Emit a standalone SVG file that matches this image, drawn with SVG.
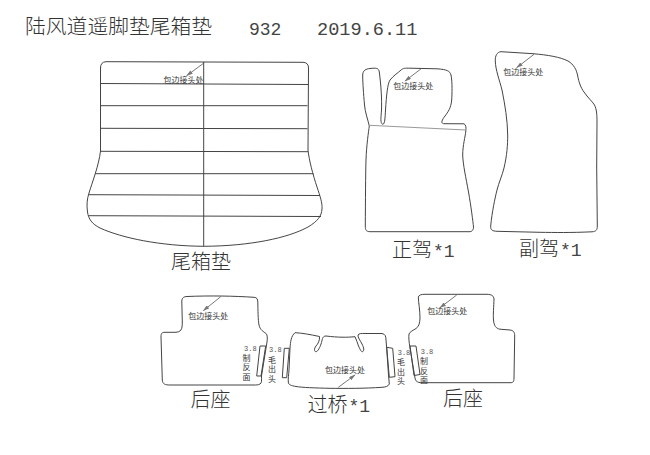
<svg xmlns="http://www.w3.org/2000/svg" width="650" height="455" viewBox="0 0 650 455">
<style>
text{font-family:"Noto Sans CJK SC","Liberation Sans",sans-serif;fill:#333}
.o{fill:none;stroke:#444;stroke-width:1}
.t{font-size:20px;font-weight:300}
.m{font-family:"Liberation Mono","Noto Sans CJK SC",monospace;fill:#444}
.s{font-size:8px;fill:#333}
.n{font-family:"Liberation Mono",monospace;font-size:7px;fill:#555}
.a{stroke:#555;stroke-width:.8;fill:none;marker-end:url(#h)}
</style>
<defs>
<marker id="h" viewBox="0 0 10 6" refX="9" refY="3" markerWidth="7" markerHeight="4" markerUnits="userSpaceOnUse" orient="auto"><path d="M0 0L10 3L0 6z" fill="#777"/></marker>
</defs>
<rect width="650" height="455" fill="#fff"/>
<g id="title">
<text x="25" y="34" font-size="20.8" font-weight="300">陆风道遥脚垫尾箱垫</text>
<text class="m" x="249" y="34.500" font-size="18">932</text>
<text class="m" x="317" y="34.500" font-size="18.600">2019.6.11</text>
</g>
<g id="trunk-mat">
<path class="o" d="M100.500 68Q100.500 62 106 61.700L303 62.300Q308.500 62.500 308.500 68L308 150C309 160 313 175 317 187C320 196 322.500 203 322 209C321.500 216 318 221 308 227C288 238 250 246 204 246.300C160 246 122 238 100 228C92 224 88.500 219 87.500 212C86.500 205 87 199 89 193C92 183 99 165 100.500 151Z"/>
<path class="o" d="M203.700 62V246M100.500 83.500L308.300 84.500M101 105.700L307.500 105.700M101 128.300L307.500 128.700M100.500 151.300L308 151.700M95 173.700L313.500 173.700M89 194.700L320 195.500M88.500 215.700L321 216.500"/>
<text class="s" x="163.500" y="82.500">包边接头处</text>
</g>
<g id="driver-mat">
<path class="o" d="M362.700 76C362.500 70 366 69 370 68.500C376 67.800 378.800 68 379.300 72C381 85 382 100 381.500 110C381 118 380 123 382.700 124.300C385 124 385 118 385.500 110C386.500 95 387.500 84 390 80C394 75 398 73 401 70C403 68.300 405 68 410 68.200L437 68.800C447 69.500 450 71 451 75C452.500 82 452 95 451.700 100C451 108 448 112 445 116C442 120 440.500 123 443.500 123.700L464 123.800C466 125 466.200 127 465.800 131C465.300 137 462.700 145 462.700 155C463 165 466 178 468.500 192C471 206 473 222 473.500 227C473.500 231 471 232 468 231.700L370 231.700C366 231.500 365.300 230 365.300 226C365.500 200 365.500 175 366 160C366.500 145 368.500 132 369.300 126C368 120 365 112 364.500 105C363.500 93 362.800 84 362.700 76Z"/>
<path d="M369.300 125.300L466 130" fill="none" stroke="#999"/>
<text class="s" x="393.300" y="89">包边接头处</text>
</g>
<g id="passenger-mat">
<path class="o" d="M495.300 61C495 56 497 52 501 51.700L533 53.700C548 55 560 57 568 61C574 64.500 576.500 70 577.500 75C579 83 581 88 584 92C588 98 592 101 594.500 105C596.500 109 597 114 597 122L596.700 167L597.300 226C597.300 230 596 231.500 592 231.800C570 232.800 555 232.500 540 232.300L497 231.300C492 231 490.500 230 490.700 226C492 212 495 198 497 190C499 182 502 176 504 168C507 155 507.700 145 507.700 135C507.500 120 505 105 502 90C499.500 80 495.500 70 495.300 61Z"/>
<text class="s" x="503.300" y="75.300">包边接头处</text>
</g>
<g id="rear-left-mat">
<path class="o" d="M181.800 301C182 297.500 184 296.700 187 296.500C210 295.500 235 296 254 297.300C257 297.500 257.700 299 257.800 302C258 310 258 320 259 325C260 330 264 332 266 333.500C267.500 335 267.500 338 267 342L261.500 376C261.500 380 262 383 260 384C258.500 385 256 385 254 385L170 385C165 385 162.500 384 162.300 380L161 337C161 333 162 332.300 165 332.300L175 332.300C181 332 182.300 330 182.300 322Z"/>
<path class="o" d="M260 346L265.700 346L261 376L256.700 376Z"/>
<text class="s" x="188.300" y="318.500">包边接头处</text>
<text class="s" x="242.500" y="360.500"><tspan class="n" x="244" y="350.500">3.8</tspan><tspan x="242.500" y="360.500">制</tspan><tspan x="242.500" y="370">反</tspan><tspan x="242.500" y="379.500">面</tspan></text>
<text class="t" x="190.500" y="406.700">后座</text>
</g>
<g id="bridge-mat">
<path class="o" d="M290 348C290.500 342 291 336 295 332.700C302 333 310 334.500 319.500 336.500C320 340 318 344 316 346C314 348.500 314 351.700 316 351.700C318 351.500 320 347 321 344C322.500 340 322 336 326 336C338 337.500 347 337.500 355 336.700C356.500 340 357.500 343 358.500 346C360 349 361 352 362.500 351.700C364.500 351 364 348 362 344C360.500 341 357.500 337 358 335C359 333.500 361 333.300 365 333.500L382 333.500C385 334 386 336 386 340L386.700 348.300L388.500 375L389.300 384C388 386.500 386 387 382 387.300C365 388.500 345 388.500 330 388.300C315 388 302 387.500 296 386.500C291 385.500 288.500 385 288.300 382C288 378 288.700 375 289 370Z"/>
<path class="o" d="M284.300 348.300L289.300 348.300L286.700 377.700L282.300 377.700ZM386.700 347.300L392.700 348.300L395 376.700L389.300 377.300Z"/>
<text class="s" x="325" y="373.300">包边接头处</text>
<text class="s" x="268" y="362.500"><tspan class="n" x="269" y="352">3.8</tspan><tspan x="268" y="362.500">毛</tspan><tspan x="268" y="372">出</tspan><tspan x="268" y="382">头</tspan></text>
<text class="s" x="397" y="365"><tspan class="n" x="397.700" y="355">3.8</tspan><tspan x="397" y="365">毛</tspan><tspan x="397" y="374.500">出</tspan><tspan x="397" y="384">头</tspan></text>
<text class="t" x="307.500" y="411.700">过桥<tspan class="m" font-size="18" dx="1">*1</tspan></text>
</g>
<g id="rear-right-mat">
<path class="o" d="M418.300 297C419 295 421 294.300 425 294.300L487 294.300C492 294.500 493.700 296 494 299C493.800 306 493 315 493.500 320C494 326 496 328.500 500 329.200L510 330C513.500 330.500 514.700 332 514.700 336L514 378C514 382 513 382.700 510 382.700L422 382.700C417 382.700 415.500 381 415 378L410 348C409 342 408.500 337 409 334C410 331.500 413 330.500 416 328.500C419 326.500 419.800 323 420 318C420 310 418.500 303 418.300 297Z"/>
<path class="o" d="M410 346L416 346L420 374.500L414 375.500Z"/>
<text class="s" x="427.300" y="314.300">包边接头处</text>
<text class="s" x="420" y="364"><tspan class="n" x="420.700" y="354">3.8</tspan><tspan x="420" y="364">制</tspan><tspan x="420" y="373.500">反</tspan><tspan x="420" y="383">面</tspan></text>
<text class="t" x="443" y="405.700">后座</text>
</g>
<g id="captions">
<text class="t" x="171" y="268.500">尾箱垫</text>
<text class="t" x="392" y="256.500">正驾<tspan class="m" font-size="18" dx="1">*1</tspan></text>
<text class="t" x="519" y="256">副驾<tspan class="m" font-size="18" dx="1">*1</tspan></text>
</g>
<g id="connectors">
<path class="a" d="M204.300 62.700L186.700 75.700"/>
<path class="a" d="M421.700 68.300L405 81"/>
<path class="a" d="M534 54.300L516.700 67.700"/>
<path class="a" d="M220.700 296.700L203.300 310.700"/>
<path class="a" d="M456.700 295L440 307.700"/>
<path class="a" d="M338.300 387.300L355 375"/>
</g>
</svg>
